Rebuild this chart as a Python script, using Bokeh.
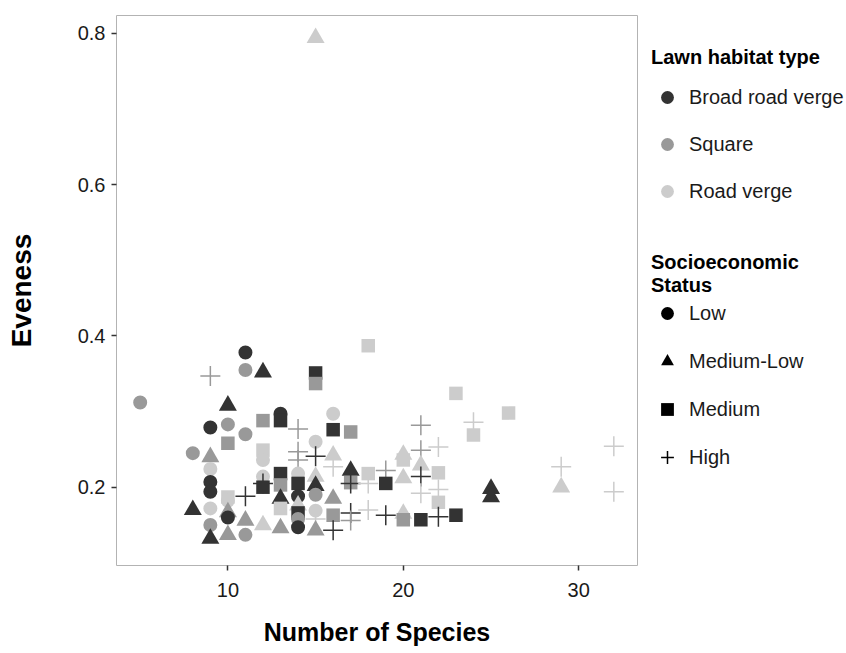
import pandas as pd
from bokeh.plotting import figure
from bokeh.layouts import row
from bokeh.models import ColumnDataSource, Legend, LegendItem, FixedTicker
from bokeh.transform import factor_cmap, factor_mark
from bokeh.embed import file_html
from bokeh.resources import INLINE

# ---- data ----
species = [5, 8, 8, 9, 9, 9, 9, 9, 9, 9, 9, 9,
           10, 10, 10, 10, 10, 10, 10, 10,
           11, 11, 11, 11, 11, 11,
           12, 12, 12, 12, 12, 12, 12, 12,
           13, 13, 13, 13, 13, 13, 13,
           14, 14, 14, 14, 14, 14, 14, 14, 14, 14,
           15, 15, 15, 15, 15, 15, 15, 15, 15, 15, 15,
           16, 16, 16, 16, 16, 16, 16,
           17, 17, 17, 17, 17, 17,
           18, 18, 18, 18,
           19, 19, 19,
           20, 20, 20, 20, 20,
           21, 21, 21, 21, 21, 21,
           22, 22, 22, 22, 22,
           23, 23, 24, 24, 25, 25, 26, 29, 29, 32, 32]
evenness = [0.312, 0.245, 0.170, 0.347, 0.279, 0.240, 0.224, 0.207, 0.194, 0.172, 0.150, 0.132,
            0.308, 0.283, 0.258, 0.187, 0.182, 0.167, 0.160, 0.137,
            0.378, 0.355, 0.270, 0.188, 0.156, 0.137,
            0.352, 0.288, 0.249, 0.236, 0.214, 0.205, 0.200, 0.150,
            0.297, 0.288, 0.218, 0.203, 0.185, 0.172, 0.146,
            0.277, 0.247, 0.236, 0.218, 0.205, 0.188, 0.176, 0.166, 0.158, 0.147,
            0.794, 0.351, 0.337, 0.260, 0.241, 0.214, 0.202, 0.190, 0.169, 0.158, 0.143,
            0.297, 0.276, 0.242, 0.227, 0.185, 0.163, 0.143,
            0.273, 0.222, 0.206, 0.205, 0.166, 0.156,
            0.387, 0.218, 0.205, 0.170,
            0.222, 0.205, 0.163,
            0.243, 0.236, 0.212, 0.165, 0.157,
            0.282, 0.249, 0.229, 0.214, 0.192, 0.157,
            0.253, 0.219, 0.197, 0.180, 0.161,
            0.324, 0.163, 0.286, 0.269, 0.198, 0.187, 0.298, 0.227, 0.200, 0.254, 0.194]
habitat = ["Square", "Square", "Broad road verge", "Square", "Broad road verge", "Square",
           "Road verge", "Broad road verge", "Broad road verge", "Road verge", "Square", "Broad road verge",
           "Broad road verge", "Square", "Square", "Road verge", "Road verge", "Square", "Broad road verge", "Square",
           "Broad road verge", "Square", "Square", "Broad road verge", "Square", "Square",
           "Broad road verge", "Square", "Road verge", "Road verge", "Road verge", "Broad road verge",
           "Broad road verge", "Road verge",
           "Broad road verge", "Broad road verge", "Broad road verge", "Square", "Broad road verge",
           "Road verge", "Square",
           "Square", "Square", "Square", "Road verge", "Broad road verge", "Broad road verge", "Road verge",
           "Broad road verge", "Square", "Broad road verge",
           "Road verge", "Broad road verge", "Square", "Road verge", "Broad road verge", "Road verge",
           "Broad road verge", "Square", "Road verge", "Road verge", "Square",
           "Road verge", "Broad road verge", "Road verge", "Road verge", "Square", "Square", "Broad road verge",
           "Square", "Broad road verge", "Square", "Broad road verge", "Broad road verge", "Square",
           "Road verge", "Road verge", "Road verge", "Road verge",
           "Square", "Broad road verge", "Broad road verge",
           "Road verge", "Road verge", "Road verge", "Road verge", "Square",
           "Square", "Square", "Road verge", "Broad road verge", "Road verge", "Broad road verge",
           "Road verge", "Road verge", "Road verge", "Road verge", "Broad road verge",
           "Road verge", "Broad road verge", "Road verge", "Road verge", "Broad road verge", "Broad road verge",
           "Road verge", "Road verge", "Road verge", "Road verge", "Road verge"]
status = ["Low", "Low", "Medium-Low", "High", "Low", "Medium-Low", "Low", "Low", "Low", "Low", "Low", "Medium-Low",
          "Medium-Low", "Low", "Medium", "Medium", "Low", "Medium-Low", "Low", "Medium-Low",
          "Low", "Low", "Low", "High", "Medium-Low", "Low",
          "Medium-Low", "Medium", "Medium", "Low", "Low", "High", "Medium", "Medium-Low",
          "Low", "Medium", "Medium", "Medium", "Medium-Low", "Medium", "Medium-Low",
          "High", "High", "High", "Low", "Medium", "Low", "Medium-Low", "Medium", "Low", "Low",
          "Medium-Low", "Medium", "Medium", "Low", "High", "Medium-Low", "Medium-Low", "Low", "Low", "High",
          "Medium-Low",
          "Low", "Medium", "Medium-Low", "High", "Medium-Low", "Medium", "High",
          "Medium", "Medium-Low", "Medium", "High", "High", "High",
          "Medium", "Medium", "High", "High",
          "High", "Medium", "High",
          "Medium-Low", "Medium", "Medium-Low", "Medium-Low", "Medium",
          "High", "High", "Medium-Low", "High", "High", "Medium",
          "High", "Medium", "High", "Medium", "High",
          "Medium", "Medium", "High", "Medium", "Medium-Low", "Medium-Low", "Medium", "High", "Medium-Low",
          "High", "High"]

habitats = ["Broad road verge", "Square", "Road verge"]
statuses = ["Low", "Medium-Low", "Medium", "High"]
x_ticks = [10, 20, 30]
y_ticks = [0.2, 0.4, 0.6, 0.8]

# ---- styles ----
palette = ["#333333", "#999999", "#cccccc"]
markers = ["circle", "triangle", "square", "cross"]
size_by_status = {"Low": 14, "Medium-Low": 18, "Medium": 13.5, "High": 20}
line_alpha_by_status = {"Low": 0, "Medium-Low": 0, "Medium": 0, "High": 1}

df = pd.DataFrame({"species": species, "evenness": evenness, "habitat": habitat, "status": status})
df["msize"] = df["status"].map(size_by_status)
df["lalpha"] = df["status"].map(line_alpha_by_status)
src = ColumnDataSource(df)

FONT = "Liberation Sans"

p = figure(width=638, height=653, x_range=(3.65, 33.35), y_range=(0.0965, 0.8235),
           output_backend="svg", toolbar_location=None,
           min_border_left=116, min_border_right=1, min_border_top=15, min_border_bottom=88)
p.outline_line_color = "#b3b3b3"
p.outline_line_width = 1
p.grid.visible = False
p.background_fill_color = "white"
p.border_fill_color = "white"

cmap = factor_cmap("habitat", palette, habitats)
p.scatter(x="species", y="evenness", source=src,
          marker=factor_mark("status", markers, statuses),
          size="msize", fill_color=cmap, line_color=cmap, line_alpha="lalpha", line_width=1.5)

for ax in (p.xaxis[0], p.yaxis[0]):
    ax.axis_line_color = None
    ax.major_tick_line_color = "#333333"
    ax.major_tick_line_width = 1.5
    ax.major_tick_out = 5
    ax.major_tick_in = 0
    ax.minor_tick_line_color = None
    ax.major_label_text_font = FONT
    ax.major_label_text_font_size = "20px"
    ax.major_label_text_color = "#1a1a1a"
    ax.axis_label_text_font = FONT
    ax.axis_label_text_font_style = "bold"
    ax.axis_label_text_color = "black"

p.xaxis.ticker = FixedTicker(ticks=x_ticks)
p.yaxis.ticker = FixedTicker(ticks=y_ticks)
p.xaxis.axis_label = "Number of Species"
p.yaxis.axis_label = "Eveness"
p.xaxis.axis_label_text_font_size = "25px"
p.yaxis.axis_label_text_font_size = "28px"
p.xaxis.major_label_standoff = 12
p.xaxis.axis_label_standoff = 18
p.yaxis.major_label_standoff = 6
p.yaxis.axis_label_standoff = 38

# ---- legend panel (separate figure to the right) ----
lp = figure(width=208, height=653, x_range=(0, 1), y_range=(0, 1),
            output_backend="svg", toolbar_location=None,
            x_axis_location=None, y_axis_location=None, min_border=0)
lp.outline_line_color = None
lp.grid.visible = False
lp.background_fill_color = "white"
lp.border_fill_color = "white"

# proxy renderers placed outside the visible range (only used by the legends)
hab_r = []
for h, c in zip(habitats, palette):
    hab_r.append(lp.scatter(x=[-10], y=[-10], marker="circle", size=14, fill_color=c, line_color=None))
stat_r = []
for s, m in zip(statuses, markers):
    stat_r.append(lp.scatter(x=[-10], y=[-10], marker=m, size=14, fill_color="black", line_color="black",
                             line_width=1.5 if m == "cross" else 0))


def style_legend(lg, spacing, standoff):
    lg.border_line_color = None
    lg.background_fill_alpha = 0
    lg.padding = 0
    lg.margin = 0
    lg.spacing = spacing
    lg.glyph_width = 32
    lg.glyph_height = 32
    lg.label_height = 32
    lg.label_standoff = 6
    lg.label_text_font = FONT
    lg.label_text_font_size = "20px"
    lg.label_text_color = "#1a1a1a"
    lg.title_text_font = FONT
    lg.title_text_font_size = "20px"
    lg.title_text_font_style = "bold"
    lg.title_text_color = "black"
    lg.title_standoff = standoff


leg1 = Legend(items=[LegendItem(label=h, renderers=[r]) for h, r in zip(habitats, hab_r)],
              title="Lawn habitat type", location=(13, 358))
style_legend(leg1, 15, 12)
leg2 = Legend(items=[LegendItem(label=s, renderers=[r]) for s, r in zip(statuses, stat_r)],
              title="Socioeconomic\nStatus", location=(13, 92))
style_legend(leg2, 16, 0)
lp.add_layout(leg1)
lp.add_layout(leg2)

layout = row(p, lp)
open("out.html", "w").write(file_html(layout, INLINE))
